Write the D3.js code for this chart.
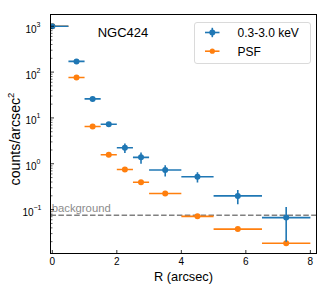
<!DOCTYPE html>
<html><head><meta charset="utf-8">
<script src="https://cdn.jsdelivr.net/npm/d3@7"></script>
<style>body{margin:0;background:#fff}svg{display:block}</style>
</head><body>
<script>
const xCenters = [0, 0.75, 1.25, 1.75, 2.25, 2.75, 3.5, 4.5, 5.75, 7.25];
const xHalfWidths = [0.5, 0.25, 0.25, 0.25, 0.25, 0.25, 0.5, 0.5, 0.75, 0.75];
const bandValues = [1000, 171, 26, 7.3, 2.24, 1.38, 0.73, 0.52, 0.199, 0.067];
const bandErrors = [40, 12, 2.5, 0.9, 0.52, 0.38, 0.2, 0.13, 0.068, 0.047];
const psfValues = [1000, 76, 6.5, 1.57, 0.75, 0.396, 0.224, 0.0713, 0.0376, 0.0185];
const psfErrors = [10, 2, 0.2, 0.05, 0.025, 0.015, 0.008, 0.003, 0.0015, 0.0008];
const backgroundLevel = 0.075;
const xTicks = [0, 2, 4, 6, 8];
const yTickExps = [-1, 0, 1, 2, 3];
const seriesNames = ["0.3-3.0 keV", "PSF"];
const titleText = "NGC424";

const W = 324, H = 291;
const L = 50.5, R = 316.5, T = 14.5, B = 253.5;
const font = "Liberation Sans, Arial, sans-serif";
const blue = "#1f77b4", orange = "#ff7f0e";

const svg = d3.select("body").append("svg").attr("width", W).attr("height", H);
const x = d3.scaleLinear().domain([-0.056, 8.19]).range([L, R]);
const y = d3.scaleLog().domain([Math.pow(10, -1.957), Math.pow(10, 3.256)]).range([B, T]);

svg.append("clipPath").attr("id", "clip").append("rect")
  .attr("x", L).attr("y", T).attr("width", R - L).attr("height", B - T);
const plot = svg.append("g").attr("clip-path", "url(#clip)");

// background line
plot.append("line").attr("x1", L).attr("x2", R)
  .attr("y1", y(backgroundLevel)).attr("y2", y(backgroundLevel))
  .attr("stroke", "#808080").attr("stroke-width", 1.5).attr("stroke-dasharray", "5.5,2.4");
svg.append("text").attr("x", L + 1.2).attr("y", y(backgroundLevel) - 3)
  .attr("font-family", font).attr("font-size", 11.3).attr("fill", "#8c8c8c").text("background");

function drawSeries(vals, errs, color) {
  const g = plot.append("g");
  xCenters.forEach((c, i) => {
    g.append("line").attr("x1", x(c - xHalfWidths[i])).attr("x2", x(c + xHalfWidths[i]))
      .attr("y1", y(vals[i])).attr("y2", y(vals[i]))
      .attr("stroke", color).attr("stroke-width", 1.6);
    g.append("line").attr("x1", x(c)).attr("x2", x(c))
      .attr("y1", y(vals[i] + errs[i])).attr("y2", y(Math.max(vals[i] - errs[i], 1e-3)))
      .attr("stroke", color).attr("stroke-width", 1.6);
    g.append("circle").attr("cx", x(c)).attr("cy", y(vals[i])).attr("r", 3).attr("fill", color);
  });
}
drawSeries(psfValues, psfErrors, orange);
drawSeries(bandValues, bandErrors, blue);

// frame
svg.append("rect").attr("x", L).attr("y", T).attr("width", R - L).attr("height", B - T)
  .attr("fill", "none").attr("stroke", "#000").attr("stroke-width", 1);

// x ticks
xTicks.forEach(t => {
  svg.append("line").attr("x1", x(t)).attr("x2", x(t)).attr("y1", B).attr("y2", B - 3.5)
    .attr("stroke", "#000").attr("stroke-width", 0.8);
  svg.append("text").attr("x", x(t)).attr("y", 264.5).attr("text-anchor", "middle")
    .attr("font-family", font).attr("font-size", 10).attr("fill", "#000").text(t);
});
// y ticks
const [ylo, yhi] = y.domain();
for (let e = -2; e <= 3; e++) {
  for (let m = 1; m <= 9; m++) {
    const v = m * Math.pow(10, e);
    if (v < ylo || v > yhi) continue;
    const len = m === 1 ? 3.5 : 2;
    svg.append("line").attr("x1", L).attr("x2", L + len).attr("y1", y(v)).attr("y2", y(v))
      .attr("stroke", "#000").attr("stroke-width", m === 1 ? 0.8 : 0.6);
  }
}
yTickExps.forEach(e => {
  const yy = y(Math.pow(10, e));
  const supW = e < 0 ? 7 : 4;
  svg.append("text").attr("x", 40.5 - supW).attr("y", yy + 6.5).attr("text-anchor", "end")
    .attr("font-family", font).attr("font-size", 10).attr("fill", "#000").text("10");
  svg.append("text").attr("x", 40.5 - supW).attr("y", yy + 0.5).attr("text-anchor", "start")
    .attr("font-family", font).attr("font-size", 7).attr("fill", "#000")
    .text(e < 0 ? "\u2212" + Math.abs(e) : String(e));
});

// axis labels
svg.append("text").attr("x", (L + R) / 2).attr("y", 281).attr("text-anchor", "middle")
  .attr("font-family", font).attr("font-size", 12.8).attr("fill", "#000").text("R (arcsec)");
const yl = svg.append("text").attr("transform", `translate(19.5,139) rotate(-90)`)
  .attr("text-anchor", "middle").attr("font-family", font).attr("font-size", 14.2).attr("fill", "#000");
yl.append("tspan").text("counts/arcsec");
yl.append("tspan").attr("font-size", 9.5).attr("dy", -6).text("2");

// title
svg.append("text").attr("x", 123).attr("y", 36.5).attr("text-anchor", "middle")
  .attr("font-family", font).attr("font-size", 13).attr("fill", "#000").text(titleText);

// legend
const lg = svg.append("g");
lg.append("rect").attr("x", 194.5).attr("y", 22.5).attr("width", 116).attr("height", 41).attr("rx", 2.5)
  .attr("fill", "#fff").attr("fill-opacity", 0.8).attr("stroke", "#d0d0d0").attr("stroke-width", 0.8);
const legendColors = [blue, orange];
seriesNames.forEach((n, i) => {
  const cy = 32.5 + i * 18.7;
  lg.append("line").attr("x1", 205).attr("x2", 219.5).attr("y1", cy).attr("y2", cy)
    .attr("stroke", legendColors[i]).attr("stroke-width", 1.6);
  if (i === 0) lg.append("line").attr("x1", 212.3).attr("x2", 212.3).attr("y1", cy - 4.7).attr("y2", cy + 4.7)
    .attr("stroke", legendColors[i]).attr("stroke-width", 1.6);
  lg.append("circle").attr("cx", 212.3).attr("cy", cy).attr("r", i === 0 ? 3 : 2.6).attr("fill", legendColors[i]);
  lg.append("text").attr("x", 237.5).attr("y", cy + 4.3).attr("font-family", font).attr("font-size", 12)
    .attr("fill", "#000").text(n);
});
</script>
</body></html>
